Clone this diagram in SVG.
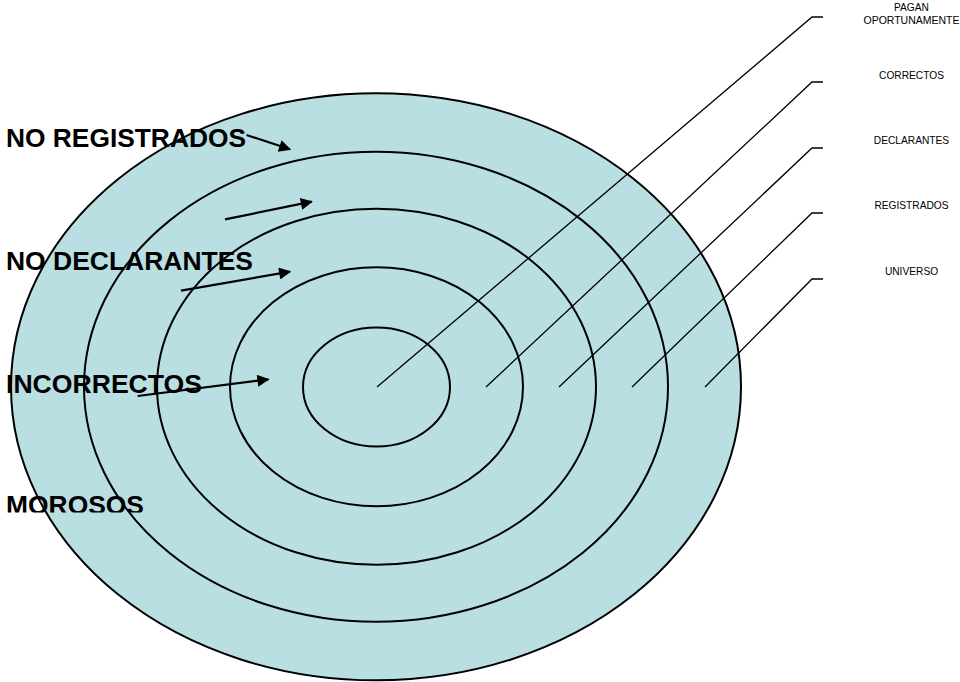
<svg xmlns="http://www.w3.org/2000/svg" width="960" height="682" viewBox="0 0 960 682">
<style>
.ring{fill:none;stroke:#000;stroke-width:2}
.lead{fill:none;stroke:#000;stroke-width:1.3}
.arr{fill:none;stroke:#000;stroke-width:2.2}
.big{font-family:"Liberation Sans",Arial,sans-serif;font-weight:bold;font-size:25.5px;fill:#000}
.sm{font-family:"Liberation Sans",Arial,sans-serif;font-size:10.2px;fill:#000;text-anchor:middle}
</style>
<defs>
<marker id="ah" viewBox="0 0 10 10" refX="9" refY="5" markerWidth="7" markerHeight="5.5" markerUnits="strokeWidth" orient="auto">
<path d="M0,0 L10,5 L0,10 Z" fill="#000"/>
</marker>
<clipPath id="clipM"><rect x="0" y="480" width="200" height="32.5"/></clipPath>
</defs>
<rect width="960" height="682" fill="#fff"/>
<g id="universo"><ellipse cx="376" cy="386.8" rx="365" ry="293.5" fill="#B9DFE3" stroke="#000" stroke-width="2"/></g>
<g id="registrados"><ellipse class="ring" cx="376" cy="386.8" rx="292" ry="235"/></g>
<g id="declarantes"><ellipse class="ring" cx="376.5" cy="386.8" rx="219.5" ry="178"/></g>
<g id="correctos"><ellipse class="ring" cx="376.5" cy="386.8" rx="146.5" ry="119.5"/></g>
<g id="pagan"><ellipse class="ring" cx="376.5" cy="387" rx="73.5" ry="59.5"/></g>
<g id="connectors">
<polyline class="lead" points="377,387 812,17 823,17"/>
<polyline class="lead" points="486,387 812,82 823,82"/>
<polyline class="lead" points="559,387 812,148 823,148"/>
<polyline class="lead" points="632,387 812,213 823,213"/>
<polyline class="lead" points="705,387 812,279 823,279"/>
<line class="arr" x1="246.5" y1="135" x2="290" y2="149.3" marker-end="url(#ah)"/>
<line class="arr" x1="225" y1="219.3" x2="311.7" y2="201.7" marker-end="url(#ah)"/>
<line class="arr" x1="181" y1="290.7" x2="290" y2="271.7" marker-end="url(#ah)"/>
<line class="arr" x1="137.7" y1="396" x2="268.3" y2="379.3" marker-end="url(#ah)"/>
</g>
<g id="labels-left">
<text class="big" x="6" y="146.5" textLength="240" lengthAdjust="spacingAndGlyphs">NO REGISTRADOS</text>
<text class="big" x="6" y="270" textLength="247" lengthAdjust="spacingAndGlyphs">NO DECLARANTES</text>
<text class="big" x="6" y="393" textLength="196" lengthAdjust="spacingAndGlyphs">INCORRECTOS</text>
<text class="big" x="6" y="514" textLength="138" lengthAdjust="spacingAndGlyphs" clip-path="url(#clipM)">MOROSOS</text>
</g>
<g id="labels-right">
<text class="sm" x="911.5" y="10.5">PAGAN</text>
<text class="sm" x="911.5" y="23.5" textLength="96" lengthAdjust="spacingAndGlyphs">OPORTUNAMENTE</text>
<text class="sm" x="911.5" y="78.5">CORRECTOS</text>
<text class="sm" x="911.5" y="143.5">DECLARANTES</text>
<text class="sm" x="911.5" y="209">REGISTRADOS</text>
<text class="sm" x="911.5" y="274.5">UNIVERSO</text>
</g>
</svg>
